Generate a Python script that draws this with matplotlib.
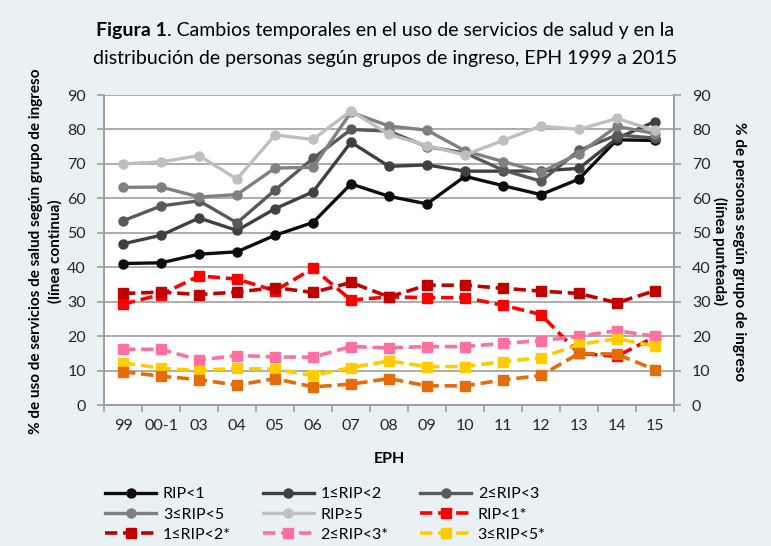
#Figura 1 - uso de servicios de salud y distribucion por grupos de ingreso

#Import the libraries
import numpy as np
import matplotlib
matplotlib.use("Agg")
import matplotlib.pyplot as plt

plt.rcParams['font.family'] = ['Lato', 'DejaVu Sans']

#Data
years = ['99', '00-1', '03', '04', '05', '06', '07', '08', '09', '10', '11', '12', '13', '14', '15']

#uso de servicios (linea continua)
rip1 = [41.1, 41.3, 43.8, 44.5, 49.3, 53.0, 64.2, 60.6, 58.4, 66.4, 63.7, 61.1, 65.6, 77.0, 76.8]
rip12 = [46.8, 49.3, 54.3, 50.7, 57.0, 61.9, 76.3, 69.3, 69.7, 67.9, 67.9, 68.0, 68.7, 77.4, 82.3]
rip23 = [53.5, 57.8, 59.3, 52.9, 62.4, 71.6, 80.0, 79.5, 75.0, 73.2, 68.2, 65.0, 73.9, 78.4, 77.5]
rip35 = [63.2, 63.3, 60.4, 61.1, 68.8, 69.0, 85.0, 81.0, 79.8, 73.8, 70.7, 67.6, 73.0, 80.9, 78.8]
rip5 = [70.0, 70.6, 72.4, 65.6, 78.4, 77.1, 85.4, 78.6, 75.3, 72.6, 76.8, 81.0, 80.0, 83.2, 79.7]

#% de personas (linea punteada)
rip1s = [29.3, 32.1, 37.5, 36.6, 33.2, 39.7, 30.5, 31.4, 31.2, 31.2, 29.0, 26.3, 15.0, 14.2, 19.8]
rip12s = [32.4, 32.8, 32.1, 32.8, 34.1, 32.7, 35.6, 31.4, 34.8, 34.8, 33.9, 33.1, 32.4, 29.7, 33.2]
rip23s = [16.2, 16.2, 13.1, 14.4, 14.0, 13.9, 17.0, 16.6, 17.0, 17.0, 17.9, 18.7, 20.0, 21.6, 20.0]
rip35s = [12.3, 10.7, 10.0, 10.7, 10.4, 8.6, 10.9, 12.8, 11.2, 11.2, 12.6, 13.8, 17.6, 19.3, 17.1]
rip5s = [9.7, 8.4, 7.4, 5.8, 7.7, 5.3, 6.1, 7.7, 5.6, 5.6, 7.3, 8.6, 15.0, 14.8, 10.3]

solid_labels = ['RIP<1', '1≤RIP<2', '2≤RIP<3', '3≤RIP<5', 'RIP≥5']
dashed_labels = ['RIP<1*', '1≤RIP<2*', '2≤RIP<3*', '3≤RIP<5*', 'RIP≥5*']

solid_colors = ['#0d0d0d', '#404040', '#595959', '#808080', '#bfbfbf']
dashed_colors = ['#ff0000', '#c00000', '#ff6f9f', '#ffcc00', '#e46c0a']

bg = '#eaf1f4'
grid_c = '#9e9e9e'

fig = plt.figure(figsize=(7.71, 5.46), dpi=100, facecolor=bg)
ax = fig.add_axes([0.135, 0.258, 0.739, 0.568])
ax.set_facecolor('white')
ax2 = ax.twinx()

x = np.arange(len(years))
handles = []

#solid lines on the left axis
for vals, lab, col in zip([rip1, rip12, rip23, rip35, rip5], solid_labels, solid_colors):
    h, = ax.plot(x, vals, color=col, lw=2.4, marker='o', markersize=6.5, label=lab, zorder=3)
    handles.append(h)

#dashed lines on the right axis
for vals, lab, col in zip([rip1s, rip12s, rip23s, rip35s, rip5s], dashed_labels, dashed_colors):
    h, = ax2.plot(x, vals, color=col, lw=2.6, ls=(0, (3.4, 1.6)), marker='s', markersize=7, label=lab, zorder=3)
    handles.append(h)

for a in [ax, ax2]:
    a.set_ylim(0, 90)
    a.set_yticks(np.arange(0, 91, 10))
    a.set_xlim(-0.5, len(years) - 0.5)
    for s in a.spines.values():
        s.set_color(grid_c)
        s.set_linewidth(1.2)
    a.spines['top'].set_visible(False)

ax.yaxis.grid(True, color=grid_c, lw=1.2)
ax.set_axisbelow(True)

#category ticks between the labels (Excel style)
ax.set_xticks(x)
ax.set_xticklabels(years)
ax.set_xticks(np.arange(-0.5, len(years), 1), minor=True)
ax.tick_params(axis='x', which='major', length=0, labelsize=11.5, colors='#262626', pad=10)
ax.tick_params(axis='x', which='minor', length=5, color=grid_c, width=1.2)
ax.tick_params(axis='y', length=5, color=grid_c, width=1.2, labelsize=11.5, labelcolor='#262626', pad=8)
ax2.tick_params(axis='y', length=5, color=grid_c, width=1.2, labelsize=11.5, labelcolor='#262626', pad=8)

ax.set_xlabel('EPH', fontsize=11.5, fontweight='bold', labelpad=14)

#axis titles placed by hand
fig.text(46 / 771, 0.54, '% de uso de servicios de salud según grupo de ingreso\n(línea continua)',
         fontsize=11, fontweight='bold', rotation=90, ha='center', va='center',
         multialignment='center', linespacing=1.45)
fig.text(729 / 771, 0.54, '% de personas según grupo de ingreso\n(línea punteada)',
         fontsize=11, fontweight='bold', rotation=270, ha='center', va='center',
         multialignment='center', linespacing=1.45)

#title, first part bold
fig.canvas.draw()
r = fig.canvas.get_renderer()
t1 = fig.text(0, 0.945, 'Figura 1', fontsize=14, fontweight='bold', va='center')
t2 = fig.text(0, 0.945, '. Cambios temporales en el uso de servicios de salud y en la', fontsize=14, va='center')
w1 = t1.get_window_extent(r).width
w2 = t2.get_window_extent(r).width
x0 = (fig.bbox.width - w1 - w2) / 2
t1.set_x(x0 / fig.bbox.width)
t2.set_x((x0 + w1) / fig.bbox.width)
fig.text(0.5, 0.893, 'distribución de personas según grupos de ingreso, EPH 1999 a 2015',
         fontsize=14, ha='center', va='center')

#legend row by row, 3 columns
order = [0, 3, 6, 1, 4, 7, 2, 5, 8]
fig.legend([handles[i] for i in order], [handles[i].get_label() for i in order],
           loc='upper left', bbox_to_anchor=(0.118, 0.134), ncol=3, frameon=False,
           fontsize=11.5, handlelength=3.2, columnspacing=2.0, labelspacing=0.38,
           handletextpad=0.4)

fig.savefig('out.png', dpi=100, facecolor=bg)
